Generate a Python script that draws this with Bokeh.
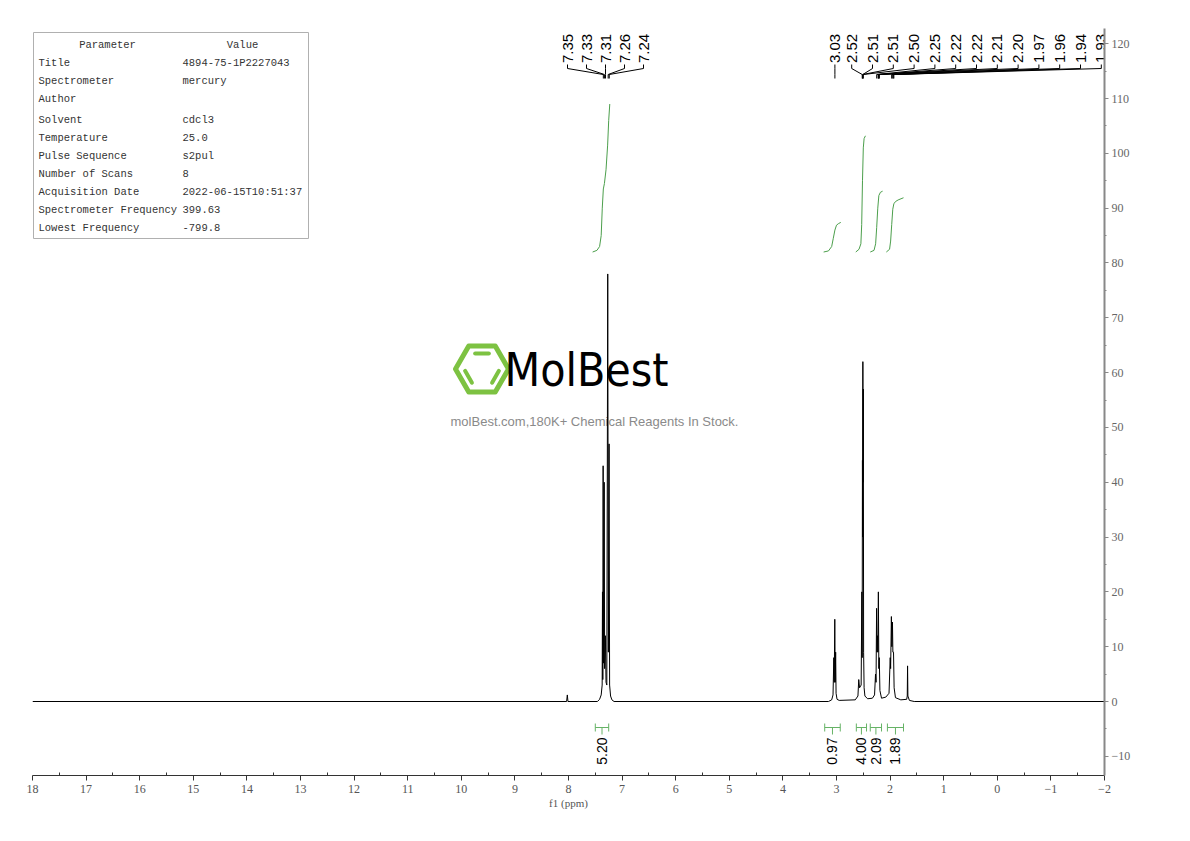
import math
from bokeh.plotting import figure
from bokeh.models import Range1d, FixedTicker
from bokeh.core.properties import value
from bokeh.embed import file_html
from bokeh.resources import INLINE

# ---------------- data ----------------
spec_ppm = [18.0, 8.035, 8.022, 8.010, 7.46, 7.42, 7.39, 7.372, 7.366, 7.360, 7.354, 7.346,
            7.334, 7.326, 7.312, 7.300, 7.285, 7.268, 7.256, 7.243, 7.233, 7.215, 7.19, 7.15,
            3.15, 3.09, 3.065, 3.050, 3.042, 3.032, 3.024, 3.016, 3.008, 2.990, 2.95,
            2.65, 2.60, 2.585, 2.57, 2.54, 2.527, 2.521, 2.516, 2.512, 2.508, 2.504, 2.500,
            2.494, 2.485, 2.47, 2.42, 2.33, 2.29, 2.272, 2.262, 2.252, 2.244, 2.236, 2.228,
            2.219, 2.210, 2.202, 2.19, 2.16, 2.08, 2.02, 1.998, 1.990, 1.976, 1.968, 1.956,
            1.948, 1.936, 1.925, 1.90, 1.80, 1.69, 1.680, 1.674, 1.668, 1.64, 1.55, -2.0]
spec_int = [0.0, 0.0, 1.2, 0.0, 0.0, 0.4, 1.2, 3.0, 20.0, 4.0, 43.0, 7.0,
            40.0, 6.0, 12.0, 3.5, 3.0, 78.0, 9.0, 47.0, 3.0, 1.0, 0.3, 0.0,
            0.0, 0.3, 1.2, 8.0, 3.5, 15.0, 3.5, 9.0, 1.5, 0.4, 0.2,
            0.3, 1.0, 4.0, 2.5, 3.0, 20.0, 8.0, 44.0, 30.0, 62.0, 40.0, 57.0,
            9.0, 2.5, 1.0, 0.5, 0.6, 1.2, 5.0, 3.5, 17.0, 9.0, 12.0, 9.0,
            20.0, 6.0, 8.0, 2.0, 0.6, 0.8, 1.5, 8.0, 6.0, 15.5, 10.0, 14.5,
            9.0, 9.0, 2.5, 0.7, 0.3, 0.4, 1.0, 6.5, 1.0, 0.2, 0.0, 0.0]

peaks_arom = [7.35, 7.33, 7.31, 7.26, 7.24]
peaks_mid = [3.03]
peaks_ali = [2.52, 2.51, 2.51, 2.50, 2.25, 2.22, 2.22, 2.21, 2.20, 1.97, 1.96, 1.94, 1.93]

integral_values = [5.20, 0.97, 4.00, 2.09, 1.89]
integral_from = [7.50, 3.22, 2.63, 2.37, 2.05]
integral_to = [7.25, 2.93, 2.44, 2.16, 1.75]

icurve1_ppm = [7.55, 7.47, 7.42, 7.39, 7.37, 7.35, 7.33, 7.30, 7.27, 7.25, 7.23]
icurve1_val = [82.0, 82.3, 83.0, 85.0, 90.0, 93.5, 94.5, 97.0, 101.5, 106.0, 109.0]
icurve2_ppm = [3.24, 3.15, 3.09, 3.06, 3.03, 3.00, 2.96, 2.92]
icurve2_val = [82.0, 82.2, 83.0, 84.5, 86.0, 86.9, 87.2, 87.4]
icurve3_ppm = [2.64, 2.58, 2.545, 2.53, 2.515, 2.50, 2.485, 2.46]
icurve3_val = [82.0, 82.5, 83.5, 87.0, 95.0, 101.0, 102.7, 103.2]
icurve4_ppm = [2.37, 2.30, 2.27, 2.25, 2.23, 2.21, 2.18, 2.14]
icurve4_val = [82.0, 82.3, 83.5, 86.5, 90.0, 92.3, 92.9, 93.1]
icurve5_ppm = [2.07, 2.01, 1.99, 1.97, 1.95, 1.93, 1.90, 1.85, 1.75]
icurve5_val = [82.0, 82.5, 84.0, 87.0, 89.8, 90.8, 91.2, 91.5, 91.9]

param_names = ["Title", "Spectrometer", "Author", "Solvent", "Temperature", "Pulse Sequence",
               "Number of Scans", "Acquisition Date", "Spectrometer Frequency", "Lowest Frequency"]
param_values = ["4894-75-1P2227043", "mercury", "", "cdcl3", "25.0", "s2pul",
                "8", "2022-06-15T10:51:37", "399.63", "-799.8"]

x_ticks = list(range(18, -3, -1))
x_minor = [t + 0.5 for t in range(-2, 18)]
y_ticks = list(range(-10, 121, 10))
y_minor = list(range(-5, 120, 10))

# ---------------- layout ----------------
X_MAX, X_MIN = 18.0, -2.0
Y_MIN = -13.5
FL, FW, FT, FH = 32, 1072, 28, 747        # frame in page px
W, H = 1180, 825
Y_ZERO_PX = 701
PXU = (FT + FH - Y_ZERO_PX) / (0 - Y_MIN)
Y_MAX = Y_MIN + FH / PXU


def px2ppm(px):
    return X_MAX - (px - FL) * (X_MAX - X_MIN) / FW


def ppm2px(ppm):
    return FL + (X_MAX - ppm) * FW / (X_MAX - X_MIN)


def py2val(py):
    return Y_MIN + (FT + FH - py) / PXU


p = figure(width=W, height=H, output_backend="svg", toolbar_location=None,
           x_range=Range1d(X_MAX, X_MIN), y_range=Range1d(Y_MIN, Y_MAX),
           y_axis_location="right", min_border_left=FL, min_border_top=FT,
           min_border_right=W - FL - FW, min_border_bottom=H - FT - FH)
p.outline_line_color = None
p.xgrid.visible = False
p.ygrid.visible = False
p.background_fill_color = "white"
p.border_fill_color = "white"

sans = value("Liberation Sans")
mono = value("Liberation Mono")

xa = p.xaxis[0]
xa.ticker = FixedTicker(ticks=x_ticks, minor_ticks=x_minor)
xa.axis_label = "f1 (ppm)"
xa.axis_label_text_font = "Liberation Serif"
xa.axis_label_text_font_style = "normal"
xa.axis_label_text_font_size = "11px"
xa.axis_label_text_color = "#555555"
xa.axis_label_standoff = 1
xa.major_label_text_font = "Liberation Serif"
xa.major_label_text_font_size = "12px"
xa.major_label_text_color = "#555555"
xa.major_label_standoff = 4
xa.axis_line_color = "#333333"
xa.major_tick_line_color = "#333333"
xa.minor_tick_line_color = "#333333"
xa.major_tick_in = 0
xa.major_tick_out = 5
xa.minor_tick_in = 3
xa.minor_tick_out = 0

ya = p.yaxis[0]
ya.ticker = FixedTicker(ticks=y_ticks, minor_ticks=y_minor)
ya.major_label_text_font = "Liberation Serif"
ya.major_label_text_font_size = "12px"
ya.major_label_text_color = "#666666"
ya.major_label_standoff = 3
ya.axis_line_color = "#888888"
ya.axis_line_width = 2
ya.major_tick_line_color = "#888888"
ya.minor_tick_line_color = "#888888"
ya.major_tick_in = 0
ya.major_tick_out = 4
ya.minor_tick_in = 0
ya.minor_tick_out = 2

# ---------------- watermark ----------------
cx, cy, R = 481.5, 368.5, 26.5
hx, hy = [], []
for k in range(7):
    a = math.radians(60 * k)
    hx.append(px2ppm(cx + R * math.cos(a)))
    hy.append(py2val(cy - R * math.sin(a)))
p.line(hx, hy, line_color="#7dc242", line_width=5, line_join="round")
r_in = 18.0
seg_x, seg_y = [], []
for a0, a1 in [(60, 120), (180, 240), (300, 360)]:
    ax0, ay0 = cx + r_in * math.cos(math.radians(a0)), cy - r_in * math.sin(math.radians(a0))
    ax1, ay1 = cx + r_in * math.cos(math.radians(a1)), cy - r_in * math.sin(math.radians(a1))
    f = 0.12
    sx0, sy0 = ax0 + (ax1 - ax0) * f, ay0 + (ay1 - ay0) * f
    sx1, sy1 = ax1 - (ax1 - ax0) * f, ay1 - (ay1 - ay0) * f
    seg_x.append([px2ppm(sx0), px2ppm(sx1)])
    seg_y.append([py2val(sy0), py2val(sy1)])
p.multi_line(seg_x, seg_y, line_color="#7dc242", line_width=4, line_cap="round")
p.text(x=[px2ppm(586)], y=[py2val(369)], text=["MolBest"],
       text_font=value("DejaVu Sans Condensed"), text_font_size="46px",
       text_color="black", text_align="center", text_baseline="middle")
p.text(x=[px2ppm(594)], y=[py2val(421)], text=["molBest.com,180K+ Chemical Reagents In Stock."],
       text_font=sans, text_font_size="13px", text_color="#8a8a8a",
       text_align="center", text_baseline="middle")

# ---------------- parameter table ----------------
p.quad(left=[px2ppm(33)], right=[px2ppm(308)], top=[py2val(32)], bottom=[py2val(238)],
       fill_color="white", line_color="#b0b0b0", line_width=1)
p.text(x=[px2ppm(107), px2ppm(242)], y=[py2val(44), py2val(44)], text=["Parameter", "Value"],
       text_font=mono, text_font_size="10.5px", text_color="#333333",
       text_align="center", text_baseline="middle")
row_py = [62, 80, 98, 119, 137, 155, 173, 191, 209, 227]
p.text(x=[px2ppm(38)] * len(param_names), y=[py2val(v) for v in row_py], text=param_names,
       text_font=mono, text_font_size="10.5px", text_color="#333333",
       text_align="left", text_baseline="middle")
p.text(x=[px2ppm(182)] * len(param_values), y=[py2val(v) for v in row_py], text=param_values,
       text_font=mono, text_font_size="10.5px", text_color="#333333",
       text_align="left", text_baseline="middle")

# ---------------- spectrum ----------------
p.line(spec_ppm, spec_int, line_color="black", line_width=1)

# ---------------- integrals ----------------
green = "#4c9f4c"
for cp, cv in [(icurve1_ppm, icurve1_val), (icurve2_ppm, icurve2_val), (icurve3_ppm, icurve3_val),
               (icurve4_ppm, icurve4_val), (icurve5_ppm, icurve5_val)]:
    p.line(cp, cv, line_color=green, line_width=1)

bx, by = [], []
for a, b in zip(integral_from, integral_to):
    mid = (a + b) / 2
    bx += [[a, b], [a, a], [b, b], [mid, mid]]
    by += [[py2val(727), py2val(727)], [py2val(723), py2val(731)],
           [py2val(723), py2val(731)], [py2val(727), py2val(734)]]
p.multi_line(bx, by, line_color="#66b366", line_width=1)
p.text(x=[(a + b) / 2 for a, b in zip(integral_from, integral_to)],
       y=[py2val(737)] * len(integral_values),
       text=[f"{v:.2f}" for v in integral_values], angle=math.pi / 2,
       text_font=sans, text_font_size="14px", text_color="black",
       text_align="right", text_baseline="middle")

# ---------------- peak labels ----------------
def label_group(peaks, center_px, spacing):
    n = len(peaks)
    lxs, lys, tx, tt = [], [], [], []
    for i, pk in enumerate(peaks):
        lx = center_px + (i - (n - 1) / 2) * spacing
        pkx = ppm2px(pk)
        lxs.append([px2ppm(lx), px2ppm(lx), px2ppm(pkx), px2ppm(pkx)])
        lys.append([py2val(64), py2val(68), py2val(74), py2val(78)])
        tx.append(px2ppm(lx))
        tt.append(f"{pk:.2f}")
    p.multi_line(lxs, lys, line_color="black", line_width=1)
    p.text(x=tx, y=[py2val(62.5)] * n, text=tt, angle=math.pi / 2,
           text_font=sans, text_font_size="15px", text_color="black",
           text_align="left", text_baseline="middle")


label_group(peaks_arom, 605, 19)
label_group(peaks_mid, ppm2px(peaks_mid[0]), 0)
label_group(peaks_ali, 976, 20.8)

open("out.html", "w").write(file_html(p, INLINE))
